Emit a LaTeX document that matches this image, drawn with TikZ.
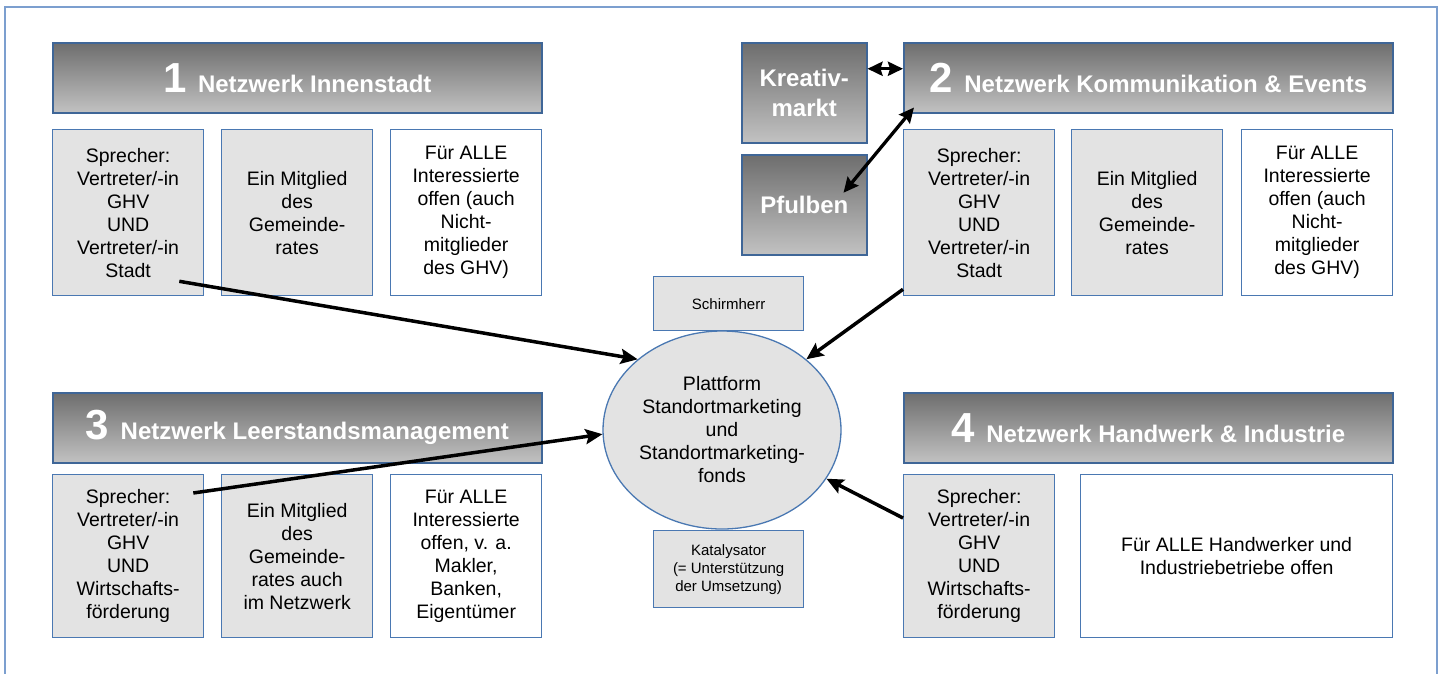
\documentclass[tikz,border=0pt]{standalone}
\usepackage{fontspec}
\setmainfont{Liberation Sans}
\usetikzlibrary{arrows.meta,shapes.geometric}

\definecolor{rand}{HTML}{4A78B2}
\definecolor{rahmen}{HTML}{7C9FCF}
\definecolor{kasten}{HTML}{E3E3E3}
\newcommand\nr[1]{{\fontsize{42}{42}\selectfont #1 }}

\begin{document}
\begin{tikzpicture}[
        x=1pt, y=-1pt,
        every node/.style={anchor=north west, inner sep=0pt, align=center},
        kopf/.style={draw=rand!85!black, line width=1.5pt, top color=black!57, bottom color=black!24,
            text=white, font=\bfseries\fontsize{24}{30}\selectfont, minimum width=489pt, minimum height=70pt},
        fach/.style={draw=rand, line width=1.3pt, fill=kasten, minimum width=151pt, minimum height=166pt,
            font=\fontsize{19.5}{23}\selectfont},
        leer/.style={fach, fill=white},
        klein/.style={fach, minimum width=150pt, font=\fontsize{15}{18}\selectfont},
        pfeil/.style={line width=3.5pt, -{Stealth[length=17pt,width=15pt,inset=3pt]}},
        doppel/.style={line width=3.3pt, {Stealth[length=15pt,width=14pt,inset=2pt]}-{Stealth[length=15pt,width=14pt,inset=2pt]}}
        ]
    \useasboundingbox (0,0) rectangle (1446,673);
    \draw[rahmen, line width=2.5pt] (5,700) -- (5,7) -- (1437,7) -- (1437,700);

    \node[kopf] (h1) at (52,42) {\nr{1}Netzwerk Innenstadt};
    \node[fach] (a1) at (52,129) {Sprecher:\\Vertreter/-in\\GHV\\UND\\Vertreter/-in\\Stadt};
    \node[fach] (a2) at (221,129) {Ein Mitglied\\des\\Gemeinde-\\rates};
    \node[leer] (a3) at (390,129) {Für ALLE\\Interessierte\\offen (auch\\Nicht-\\mitglieder\\des GHV)};

    \node[kopf] (h2) at (903,42) {\nr{2}Netzwerk Kommunikation \& Events};
    \node[fach] (b1) at (903,129) {Sprecher:\\Vertreter/-in\\GHV\\UND\\Vertreter/-in\\Stadt};
    \node[fach] (b2) at (1071,129) {Ein Mitglied\\des\\Gemeinde-\\rates};
    \node[leer] (b3) at (1241,129) {Für ALLE\\Interessierte\\offen (auch\\Nicht-\\mitglieder\\des GHV)};
    \node[kopf, minimum width=125pt, minimum height=100pt] (km) at (741,42) {Kreativ-\\markt};
    \node[kopf, minimum width=125pt, minimum height=100pt] (pfu) at (741,154) {Pfulben};

    \node[kopf] (h3) at (52,392) {\nr{3}Netzwerk Leerstandsmanagement};
    \node[fach, minimum height=163pt] (c1) at (52,474) {Sprecher:\\Vertreter/-in\\GHV\\UND\\Wirtschafts-\\förderung};
    \node[fach, minimum height=163pt] (c2) at (221,474) {Ein Mitglied\\des\\Gemeinde-\\rates auch\\im Netzwerk};
    \node[leer, minimum height=163pt] (c3) at (390,474) {Für ALLE\\Interessierte\\offen, v. a.\\Makler,\\Banken,\\Eigentümer};

    \node[kopf] (h4) at (903,392) {\nr{4}Netzwerk Handwerk \& Industrie};
    \node[fach, minimum height=163pt] (d1) at (903,474) {Sprecher:\\Vertreter/-in\\GHV\\UND\\Wirtschafts-\\förderung};
    \node[leer, minimum width=312pt, minimum height=163pt] (d2) at (1080,474) {Für ALLE Handwerker und\\Industriebetriebe offen};

    \node[klein, minimum height=54pt] (schirm) at (653,276) {Schirmherr};
    \node[klein, minimum height=77pt] (kat) at (653,530) {Katalysator\\(= Unterstützung\\der Umsetzung)};
    \node[ellipse, anchor=center, draw=rand, line width=1.3pt, fill=kasten, minimum width=238pt, minimum height=198pt,
        font=\fontsize{19.5}{23}\selectfont] (platt) at (722,430)
        {Plattform\\Standortmarketing\\und\\Standortmarketing-\\fonds};

    \draw[pfeil] ([xshift=-25pt,yshift=15pt]a1.south east) -- (platt.140);
    \draw[pfeil] ([xshift=-11pt,yshift=-19pt]c1.north east) -- (platt.182);
    \draw[pfeil] ([yshift=7pt]b1.south west) -- (platt.40);
    \draw[pfeil] ([yshift=-44pt]d1.north west) -- (platt.335);
    \draw[doppel] ([yshift=24pt]km.east) -- ([yshift=24pt]km.east -| h2.west);
    \draw[doppel] ([xshift=11pt,yshift=6pt]h2.south west) -- ([xshift=-24pt,yshift=12pt]pfu.east);
\end{tikzpicture}
\end{document}
